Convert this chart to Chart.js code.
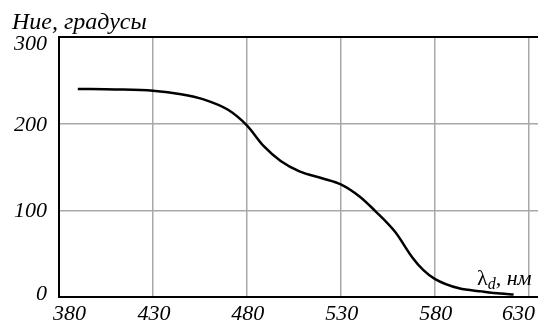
<!DOCTYPE html>
<html>
<head>
<meta charset="utf-8">
<script src="https://cdn.jsdelivr.net/npm/chart.js@4/dist/chart.umd.min.js"></script>
<style>
  html, body { margin: 0; padding: 0; background: #fff; }
  canvas { display: block; }
</style>
</head>
<body>
<canvas id="hueChart" width="538" height="324"></canvas>
<script>
// Hue angle vs dominant wavelength
const wavelength = [390, 410, 430, 445, 457, 470, 480, 489, 498, 508, 520, 530, 540, 548, 559, 568, 574, 580, 593, 605, 615, 622];
const hue = [240, 239.5, 238, 234, 228, 216, 198, 174, 157, 145, 137, 130, 116, 100, 75, 46, 31, 21, 10, 6.5, 4, 3];
const xTicks = [380, 430, 480, 530, 580, 630];
const yTicks = [0, 100, 200, 300];
const yTitle = 'Ние, градусы';
const xTitle = { sym: 'λ', sub: 'd', unit: ', нм' };

const SERIF = '"Liberation Serif", "Times New Roman", serif';

// tick labels and axis captions drawn from the scales
const labelsPlugin = {
    id: 'labels',
    afterDraw(chart) {
        const ctx = chart.ctx;
        const a = chart.chartArea;
        const x = chart.scales.x;
        const y = chart.scales.y;
        ctx.save();
        ctx.fillStyle = '#000';
        ctx.textBaseline = 'alphabetic';

        // y tick labels
        ctx.font = 'italic 22px ' + SERIF;
        ctx.textAlign = 'right';
        yTicks.forEach(v => {
            let base = y.getPixelForValue(v) + 7;
            base = Math.min(Math.max(base, a.top + 13), a.bottom + 3);
            ctx.fillText(String(v), a.left - 12, base);
        });

        // x tick labels
        ctx.font = 'italic 22px ' + SERIF;
        ctx.textAlign = 'left';
        xTicks.forEach(v => {
            const t = String(v);
            const w = ctx.measureText(t).width;
            let left = x.getPixelForValue(v) - w / 2 + 1;
            left = Math.max(left, a.left - 6);
            left = Math.min(left, chart.width - 3 - w);
            ctx.fillText(t, left, a.bottom + 23);
        });

        // y axis title
        ctx.font = 'italic 24px ' + SERIF;
        ctx.fillText(yTitle, 12, 29);

        // x axis title
        let px = 477;
        ctx.font = '22px ' + SERIF;
        ctx.fillText(xTitle.sym, px, 285);
        px += ctx.measureText(xTitle.sym).width;
        ctx.font = 'italic 16px ' + SERIF;
        ctx.fillText(xTitle.sub, px, 289);
        px += ctx.measureText(xTitle.sub).width;
        ctx.font = 'italic 22px ' + SERIF;
        ctx.fillText(xTitle.unit, px, 285);

        ctx.restore();
    }
};

new Chart(document.getElementById('hueChart'), {
    type: 'line',
    data: {
        datasets: [{
            data: wavelength.map((w, i) => ({ x: w, y: hue[i] })),
            borderColor: '#000',
            borderWidth: 2.5,
            pointRadius: 0,
            cubicInterpolationMode: 'monotone',
            fill: false
        }]
    },
    options: {
        responsive: false,
        animation: false,
        layout: {
            padding: { top: 37, right: 0, bottom: 0, left: 0 }
        },
        plugins: {
            legend: { display: false },
            tooltip: { enabled: false }
        },
        scales: {
            x: {
                type: 'linear',
                min: 380,
                max: 635,
                afterBuildTicks: s => { s.ticks = xTicks.map(v => ({ value: v })); },
                afterFit: s => { s.height = 27; },
                ticks: { display: false },
                grid: { color: '#a8a8a8', lineWidth: 1.5, drawTicks: false },
                border: { color: '#000', width: 2 }
            },
            y: {
                min: 0,
                max: 300,
                afterBuildTicks: s => { s.ticks = yTicks.map(v => ({ value: v })); },
                afterFit: s => { s.width = 59; },
                ticks: { display: false },
                grid: {
                    color: c => (c.tick && c.tick.value === 300) ? '#000' : '#a8a8a8',
                    lineWidth: c => (c.tick && c.tick.value === 300) ? 2 : 1.5,
                    drawTicks: false
                },
                border: { color: '#000', width: 2 }
            }
        }
    },
    plugins: [labelsPlugin]
});
</script>
</body>
</html>
